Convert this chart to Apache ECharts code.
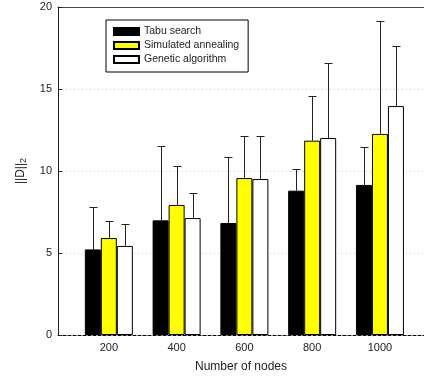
<!DOCTYPE html>
<html>
<head>
<meta charset="utf-8">
<script src="https://cdn.jsdelivr.net/npm/echarts@6/dist/echarts.min.js"></script>
<style>
  html, body { margin: 0; padding: 0; background: #fff; }
  #chart { width: 424px; height: 382px; }
</style>
</head>
<body>
<div id="chart"></div>
<script>
// number of nodes
const nodes = [200, 400, 600, 800, 1000];
const yTicks = [0, 5, 10, 15, 20];

// mean ||D||2 and upper end of error bar
const tabuMean = [5.22, 6.99, 6.83, 8.80, 9.15];
const tabuTop = [7.82, 11.52, 10.83, 10.14, 11.48];
const annealMean = [5.91, 7.93, 9.57, 11.85, 12.26];
const annealTop = [6.97, 10.32, 12.11, 14.59, 19.15];
const geneticMean = [5.43, 7.13, 9.51, 12.01, 13.96];
const geneticTop = [6.77, 8.66, 12.15, 16.59, 17.64];

const FONT = 'Liberation Sans, Arial, sans-serif';
const chart = echarts.init(document.getElementById('chart'), null, { renderer: 'canvas' });

function barSeries(name, mean, color) {
    return {
        name: name,
        type: 'bar',
        barWidth: 16,
        barGap: '0%',
        data: nodes.map((n, i) => [n, mean[i]]),
        itemStyle: { color: color, borderColor: '#000', borderWidth: 1 },
        z: 2
    };
}

// error bar, only the upper half, drawn in pixel offset from the group centre
function errSeries(mean, top, shift) {
    return {
        type: 'custom',
        data: nodes.map((n, i) => [n, mean[i], top[i]]),
        z: 1,
        silent: true,
        renderItem: function (params, api) {
            const lo = api.coord([api.value(0), api.value(1)]);
            const hi = api.coord([api.value(0), api.value(2)]);
            const cx = Math.round(lo[0] + shift) + 0.5;
            const ty = Math.round(hi[1]) + 0.5;
            const st = { stroke: '#222', lineWidth: 1 };
            return {
                type: 'group',
                children: [
                    { type: 'line', shape: { x1: cx, y1: lo[1], x2: cx, y2: ty }, style: st },
                    { type: 'line', shape: { x1: cx - 4, y1: ty, x2: cx + 4, y2: ty }, style: st }
                ]
            };
        }
    };
}

const option = {
    animation: false,
    textStyle: { fontFamily: FONT },
    grid: { left: 58, right: 0, top: 7, bottom: 47 },
    legend: {
        orient: 'vertical',
        left: 106,
        top: 20,
        padding: [6, 9, 7, 7],
        itemGap: 3,
        itemWidth: 25,
        itemHeight: 7,
        icon: 'rect',
        borderColor: '#000',
        borderWidth: 1,
        borderRadius: 0,
        textStyle: { fontSize: 10.5, color: '#222', fontFamily: FONT, lineHeight: 11 },
        data: ['Tabu search', 'Simulated annealing', 'Genetic algorithm']
    },
    xAxis: [{
        type: 'value',
        min: 50,
        max: 1130,
        name: 'Number of nodes',
        nameLocation: 'middle',
        nameGap: 26,
        nameTextStyle: { fontSize: 12, color: '#222', fontFamily: FONT },
        splitLine: { show: false },
        axisLine: { lineStyle: { color: '#000', width: 1, type: [3, 2] } },
        axisTick: { show: false },
        axisLabel: { customValues: nodes, formatter: v => String(v), fontSize: 11, color: '#222', margin: 7 }
    }, {
        type: 'value',
        position: 'top',
        min: 50,
        max: 1130,
        splitLine: { show: false },
        axisLine: { show: true, lineStyle: { color: '#444', width: 1 } },
        axisTick: { show: false },
        axisLabel: { show: false }
    }],
    yAxis: {
        type: 'value',
        min: 0,
        max: 20,
        interval: 5,
        name: '||D||{sub|2}',
        nameLocation: 'middle',
        nameGap: 30,
        nameRotate: 90,
        nameTextStyle: {
            fontSize: 12, color: '#222', fontFamily: FONT,
            rich: { sub: { fontSize: 9, verticalAlign: 'bottom', padding: [5, 0, 0, 0], color: '#222' } }
        },
        axisLine: { show: true, lineStyle: { color: '#222', width: 1 } },
        axisTick: { show: true, inside: true, length: 4, lineStyle: { color: '#222' } },
        axisLabel: { fontSize: 11, color: '#222', margin: 6 },
        splitLine: { show: true, lineStyle: { color: '#ccc', type: [1, 3] } }
    },
    series: [
        barSeries('Tabu search', tabuMean, '#000'),
        barSeries('Simulated annealing', annealMean, '#ffff00'),
        barSeries('Genetic algorithm', geneticMean, '#fff'),
        errSeries(tabuMean, tabuTop, -16),
        errSeries(annealMean, annealTop, 0),
        errSeries(geneticMean, geneticTop, 16)
    ]
};

chart.setOption(option);
window.addEventListener('resize', () => {
    chart.resize();
});
</script>
</body>
</html>
